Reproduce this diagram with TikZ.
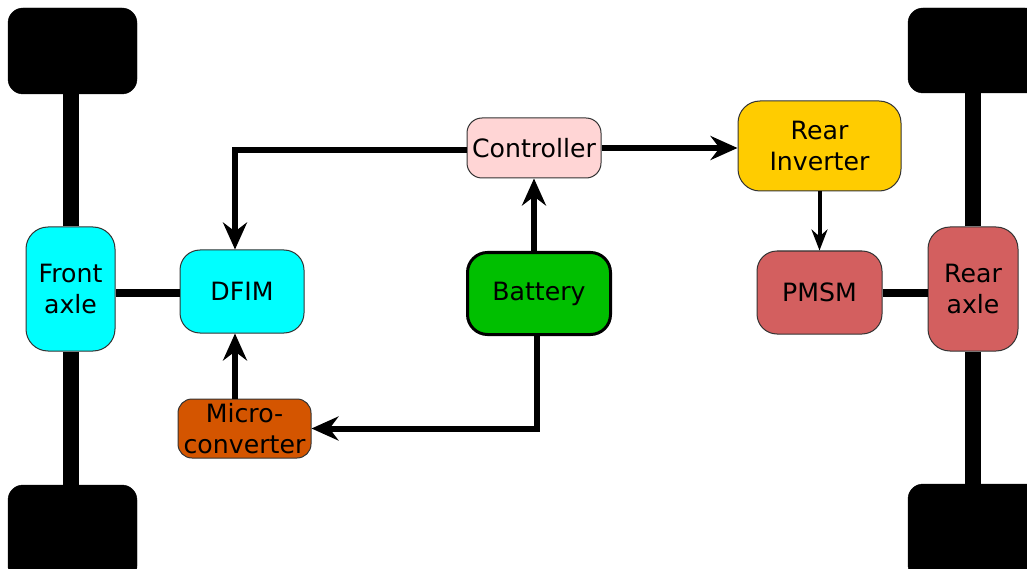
\documentclass[tikz,border=0pt]{standalone}
\usepackage{fontspec}
\setmainfont{DejaVu Sans}
\usetikzlibrary{arrows.meta}
\definecolor{cyanbox}{HTML}{00FFFF}
\definecolor{ctrlpink}{HTML}{FFD5D5}
\definecolor{battgreen}{HTML}{00BF00}
\definecolor{microorange}{HTML}{D45500}
\definecolor{invyellow}{HTML}{FFCC00}
\definecolor{motorred}{HTML}{D35F5F}
\definecolor{edgegray}{HTML}{333333}
\tikzset{
  box/.style={draw=edgegray, line width=1pt, rounded corners=18pt, inner sep=0pt, align=center,
              font=\fontsize{25.2}{31.5}\selectfont, text=black},
  wheel/.style={fill=black, draw=black, rounded corners=15pt, inner sep=0pt},
  axlebar/.style={line width=16pt, black},
  shaft/.style={line width=8pt, black},
  flow/.style={line width=6pt, black, -{Stealth[length=27pt,width=24pt,inset=9pt]}},
  flowthin/.style={line width=4pt, black, -{Stealth[length=21pt,width=16pt,inset=7pt]}}
}
\begin{document}
\begin{tikzpicture}[x=1pt,y=-1pt]
\useasboundingbox (0,0) rectangle (1027,569);
\clip (0,0) rectangle (1027,569);
% wheels
\node[wheel, minimum width=129pt, minimum height=86pt] (wtl) at (72.5,51) {};
\node[wheel, minimum width=129pt, minimum height=96pt] (wbl) at (72.5,533) {};
\node[wheel, minimum width=132pt, minimum height=85pt] (wtr) at (974,50.5) {};
\node[wheel, minimum width=132pt, minimum height=96pt] (wbr) at (974,532) {};
% nodes
\node[box, fill=cyanbox, minimum width=89pt, minimum height=124pt, rounded corners=22pt] (fa) at (70.5,289) {Front\\axle};
\node[box, fill=cyanbox, minimum width=124pt, minimum height=83pt, rounded corners=20pt] (dfim) at (242,291.5) {DFIM};
\node[box, fill=microorange, minimum width=133pt, minimum height=59pt, rounded corners=14pt] (micro) at (244.5,428.5) {Micro-\\converter};
\node[box, fill=ctrlpink, minimum width=134pt, minimum height=60pt, rounded corners=15pt] (ctrl) at (534,148) {Controller};
\node[box, fill=battgreen, draw=black, line width=3pt, minimum width=143pt, minimum height=82pt, rounded corners=20pt] (batt) at (539,293.5) {Battery};
\node[box, fill=invyellow, minimum width=163pt, minimum height=90pt, rounded corners=22pt] (rinv) at (819.5,146) {Rear\\Inverter};
\node[box, fill=motorred, minimum width=125pt, minimum height=83pt, rounded corners=20pt] (pmsm) at (819.5,292.5) {PMSM};
\node[box, fill=motorred, minimum width=90pt, minimum height=124pt, rounded corners=22pt] (ra) at (973,289) {Rear\\axle};
% axle bars
\draw[axlebar] (fa.north) -- (fa.north |- wtl.south);
\draw[axlebar] (fa.south) -- (fa.south |- wbl.north);
\draw[axlebar] (ra.north) -- (ra.north |- wtr.south);
\draw[axlebar] (ra.south) -- (ra.south |- wbr.north);
% shafts
\draw[shaft] ([yshift=-1.5pt]dfim.west) -- ([yshift=-1.5pt]dfim.west -| fa.east);
\draw[shaft] (pmsm.east) -- (pmsm.east -| ra.west);
% flows
\draw[flow] ([yshift=-2pt]ctrl.west) -| ([xshift=-7pt]dfim.north);
\draw[flow] (ctrl.east) -- (ctrl.east -| rinv.west);
\draw[flow] (batt.north -| ctrl.south) -- (ctrl.south);
\draw[flow] ([xshift=-9.5pt]micro.north) -- ([xshift=-7pt]dfim.south);
\draw[flow] ([xshift=-2pt]batt.south) |- (micro.east);
\draw[flowthin] (rinv.south) -- (pmsm.north);
\end{tikzpicture}
\end{document}
